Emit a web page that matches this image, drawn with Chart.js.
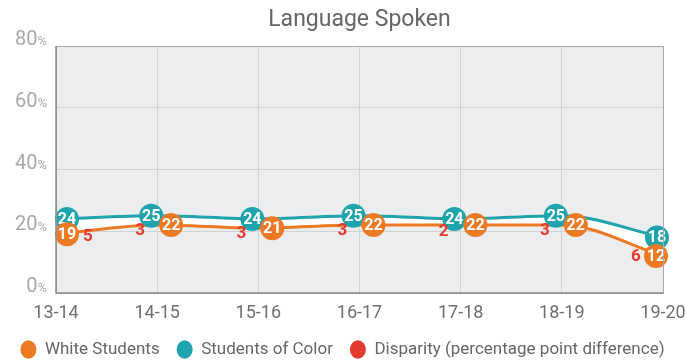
<!DOCTYPE html>
<html>
<head>
<meta charset="utf-8">
<script src="https://cdn.jsdelivr.net/npm/chart.js@4"></script>
<style>
  html, body { margin: 0; padding: 0; background: #fff; }
  #wrap { width: 685px; height: 363px; }
</style>
</head>
<body>
<div id="wrap"><canvas id="language"></canvas></div>
<script>
// School years and percentages
var categories = ['13-14', '14-15', '15-16', '16-17', '17-18', '18-19', '19-20'];
var whiteStudents = [19, 22, 21, 22, 22, 22, 12];
var studentsOfColor = [24, 25, 24, 25, 24, 25, 18];
var disparity = [5, 3, 3, 3, 2, 3, 6];
var yTicks = [0, 20, 40, 60, 80];

var ORANGE = '#ec7a24';
var TEAL = '#1fa3ad';
var RED = '#e53a2f';

Chart.defaults.font.family = 'Roboto';

// Plot background, frame, title and y labels
var frame = {
    id: 'frame',
    afterLayout: function (chart) {
        // push the legend row a little lower
        chart.legend.top += 5;
        chart.legend.bottom += 5;
    },
    beforeDraw: function (chart) {
        var a = chart.chartArea, ctx = chart.ctx;
        ctx.save();
        ctx.fillStyle = '#ecedef';
        ctx.fillRect(a.left, a.top, a.right - a.left, a.bottom - a.top);
        ctx.restore();
    },
    afterDraw: function (chart) {
        var a = chart.chartArea, ctx = chart.ctx;
        var y = chart.scales.y;
        ctx.save();
        ctx.strokeStyle = '#a8a8a8';
        ctx.lineWidth = 1;
        ctx.strokeRect(a.left + 0.5, a.top + 0.5, a.right - a.left, a.bottom - a.top);
        ctx.strokeStyle = '#8c8c8c';
        ctx.lineWidth = 1.5;
        ctx.beginPath();
        ctx.moveTo(a.left, a.top);
        ctx.lineTo(a.left, a.bottom);
        ctx.lineTo(a.right, a.bottom);
        ctx.stroke();

        // title centred over the plot
        ctx.fillStyle = '#666';
        ctx.font = '23px Roboto';
        ctx.textAlign = 'center';
        ctx.textBaseline = 'middle';
        ctx.fillText('Language Spoken', (a.left + a.right) / 2, 20);

        // y tick labels with a smaller percent sign
        ctx.fillStyle = '#a9a9a9';
        ctx.textAlign = 'right';
        yTicks.forEach(function (v) {
            var py = y.getPixelForValue(v) - 6;
            ctx.font = '13px Roboto';
            var pw = ctx.measureText('%').width;
            ctx.fillText('%', a.left - 9, py + 2);
            ctx.font = '20px Roboto';
            ctx.fillText(String(v), a.left - 9 - pw, py);
        });
        ctx.restore();
    }
};

// Value bubbles and disparity numbers
var bubbles = {
    id: 'bubbles',
    afterDatasetsDraw: function (chart) {
        var ctx = chart.ctx, a = chart.chartArea;
        var x = chart.scales.x, y = chart.scales.y;
        var r = 12;
        ctx.save();
        ctx.textAlign = 'center';
        ctx.textBaseline = 'middle';
        categories.forEach(function (c, i) {
            var cx = x.getPixelForValue(i);
            var yt = y.getPixelForValue(studentsOfColor[i]);
            var yo = y.getPixelForValue(whiteStudents[i]);
            var xt = cx, xo = cx;
            var atEdge = i === 0 || i === categories.length - 1;
            var dy = Math.abs(yo - yt);
            if (!atEdge && dy < 22) {
                var dx = Math.sqrt(22 * 22 - dy * dy);
                xt = cx - dx * 0.3;
                xo = cx + dx * 0.7;
            }
            xt = Math.min(Math.max(xt, a.left + 11), a.right - 6);
            xo = Math.min(Math.max(xo, a.left + 11), a.right - 7);

            [[xt, yt, TEAL, studentsOfColor[i]], [xo, yo, ORANGE, whiteStudents[i]]].forEach(function (b) {
                ctx.fillStyle = b[2];
                ctx.beginPath();
                ctx.arc(b[0], b[1], r, 0, Math.PI * 2);
                ctx.fill();
                ctx.fillStyle = '#fff';
                ctx.font = 'bold 16px Roboto';
                ctx.fillText(String(b[3]), b[0], b[1] + 1);
            });

            // disparity sits just left of the pair, below the band
            var dxp = Math.min(Math.max(cx - 17, a.left + 32), a.right - 27);
            var dyp = (yt + yo) / 2 + 10;
            ctx.fillStyle = RED;
            ctx.font = 'bold 17px Roboto';
            ctx.fillText(String(disparity[i]), dxp, dyp);
        });
        ctx.restore();
    }
};

var ctx = document.getElementById('language').getContext('2d');

new Chart(ctx, {
    type: 'line',
    data: {
        labels: categories,
        datasets: [{
            label: 'White Students',
            data: whiteStudents,
            borderColor: ORANGE,
            pointBackgroundColor: ORANGE,
            borderWidth: 3,
            pointRadius: 0,
            cubicInterpolationMode: 'monotone',
            fill: false
        }, {
            label: 'Students of Color',
            data: studentsOfColor,
            borderColor: TEAL,
            pointBackgroundColor: TEAL,
            backgroundColor: '#ffffff',
            borderWidth: 3,
            pointRadius: 0,
            cubicInterpolationMode: 'monotone',
            fill: '-1'
        }, {
            label: 'Disparity (percentage point difference)',
            data: disparity,
            borderColor: RED,
            pointBackgroundColor: RED,
            showLine: false,
            pointRadius: 0,
            fill: false
        }]
    },
    options: {
        responsive: true,
        maintainAspectRatio: false,
        animation: false,
        layout: { padding: { left: 0, right: 0, top: 46, bottom: 0 } },
        plugins: {
            title: { display: false },
            legend: {
                position: 'bottom',
                labels: {
                    usePointStyle: true,
                    pointStyle: 'circle',
                    boxHeight: 13,
                    pointStyleWidth: 16,
                    padding: 17,
                    color: '#666',
                    font: { size: 17 },
                    generateLabels: function (chart) {
                        return chart.data.datasets.map(function (d, i) {
                            return {
                                text: d.label,
                                fillStyle: d.pointBackgroundColor,
                                strokeStyle: d.pointBackgroundColor,
                                lineWidth: 0,
                                pointStyle: 'circle',
                                fontColor: '#666',
                                datasetIndex: i
                            };
                        });
                    }
                }
            },
            tooltip: { enabled: false }
        },
        scales: {
            x: {
                offset: false,
                afterFit: function (scale) {
                    scale.height = 26;
                    scale.paddingRight = 22;
                },
                grid: { color: '#d2d3d5', drawTicks: false },
                border: { display: false },
                ticks: { color: '#6f6f6f', font: { size: 18 }, padding: 10, maxRotation: 0 }
            },
            y: {
                min: 0,
                max: 80,
                afterBuildTicks: function (scale) {
                    scale.ticks = yTicks.map(function (v) { return { value: v }; });
                },
                afterFit: function (scale) {
                    scale.width = 56;
                },
                grid: { color: '#d2d3d5', drawTicks: false },
                border: { display: false },
                ticks: { display: false }
            }
        }
    },
    plugins: [frame, bubbles]
});
</script>
</body>
</html>
